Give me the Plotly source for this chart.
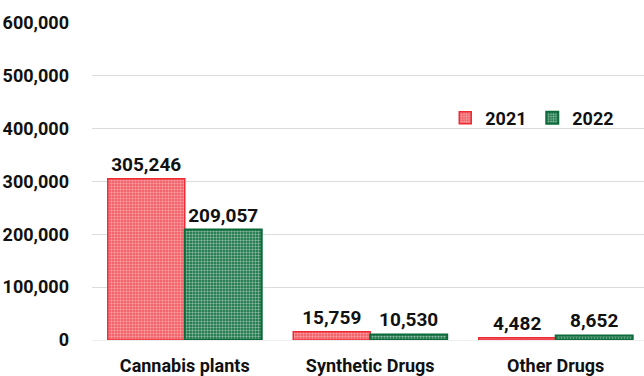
import plotly.graph_objects as go

categories = ["Cannabis plants", "Synthetic Drugs", "Other Drugs"]
values_2021 = [305246, 15759, 4482]
values_2022 = [209057, 10530, 8652]
tick_vals = [0, 100000, 200000, 300000, 400000, 500000, 600000]
tick_text = ["0", "100,000", "200,000", "300,000", "400,000", "500,000", "600,000"]

FONT = "Roboto, Liberation Sans, sans-serif"
RED = "#ee2a35"
GREEN = "#0b6b3a"


def tfont(size):
    return dict(family=FONT, size=size, color="#111111", weight="bold")


fig = go.Figure()
fig.add_trace(go.Bar(
    name="2021", x=categories, y=values_2021,
    text=[f"{v:,}" for v in values_2021], textposition="outside",
    textfont=tfont(19),
    marker=dict(
        color="white",
        line=dict(color=RED, width=1.5),
        pattern=dict(shape=".", fgcolor="#fde4e5", bgcolor="#f15259", size=3, solidity=0.5),
    ),
    cliponaxis=False,
))
fig.add_trace(go.Bar(
    name="2022", x=categories, y=values_2022,
    text=[f"{v:,}" for v in values_2022], textposition="outside",
    textfont=tfont(19),
    marker=dict(
        color="white",
        line=dict(color=GREEN, width=2),
        pattern=dict(shape=".", fgcolor="#ffffff", bgcolor=GREEN, size=3, solidity=0.5),
    ),
    cliponaxis=False,
))

fig.update_layout(
    width=644, height=376,
    margin=dict(l=92, r=0, t=23, b=36),
    paper_bgcolor="white", plot_bgcolor="white",
    barmode="group", bargap=0.17, bargroupgap=0,
    font=tfont(18),
    legend=dict(
        orientation="h", x=0.64, y=0.70, xanchor="left", yanchor="middle",
        font=tfont(18), entrywidth=42, entrywidthmode="pixels",
        bgcolor="rgba(0,0,0,0)", itemwidth=30, traceorder="normal",
    ),
    showlegend=True,
)
fig.update_xaxes(
    range=[-0.5, 2.476],
    showgrid=False, showline=False, ticks="", ticklabelstandoff=13,
    tickfont=tfont(18),
)
fig.update_yaxes(
    range=[0, 600000], tickvals=tick_vals, ticktext=tick_text,
    showgrid=True, gridcolor="#dcdcdc", gridwidth=1,
    zeroline=True, zerolinecolor="#eeeeee", zerolinewidth=1,
    showline=False, ticks="", ticklabelstandoff=22,
    tickfont=tfont(18),
)

fig.write_html("out.html")
